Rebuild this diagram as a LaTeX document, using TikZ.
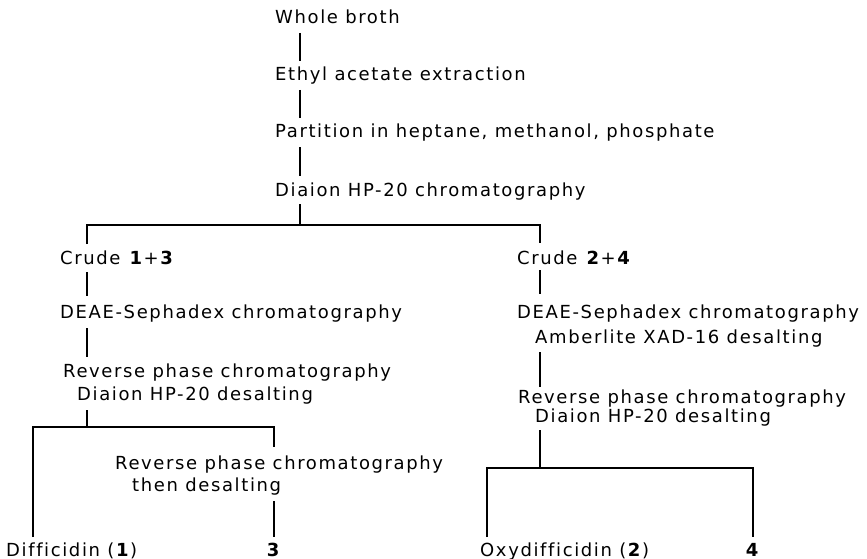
\documentclass[tikz,border=0pt]{standalone}
\usepackage{fontspec}
\setmainfont{DejaVu Sans}[LetterSpace=9, Ligatures=NoCommon]
\usetikzlibrary{calc}

\tikzset{
    stage/.style={anchor=base west, inner sep=0pt, font=\fontsize{18}{21}\selectfont},
    leaf/.style={stage, anchor=base},
    link/.style={line width=1.2pt},
}

\begin{document}
\begin{tikzpicture}[x=1pt, y=-1pt]
            % the frame
            \useasboundingbox (0, 0) rectangle (867, 559);

            % the stems
            \coordinate (m) at (300, 0);
            \coordinate (a) at (87, 0);
            \coordinate (b) at (540, 0);
            \coordinate (c) at (274, 0);
            \coordinate (d) at (33, 0);
            \coordinate (e) at (487, 0);

            % common part
            \node[stage] (broth) at (275, 24) {Whole broth};
            \node[stage] (ethyl) at (275, 81) {Ethyl acetate extraction};
            \node[stage] (part) at (275, 138) {Partition in heptane, methanol, phosphate};
            \node[stage] (hp) at (275, 196) {Diaion HP-20 chromatography};

            % left branch
            \node[stage] (crudeA) at (60, 264) {Crude \textbf{1}+\textbf{3}};
            \node[stage] (deaeA) at (60, 318) {DEAE-Sephadex chromatography};
            \node[stage] (revA) at (63, 377) {Reverse phase chromatography};
            \node[stage] (dhpA) at (77, 400) {Diaion HP-20 desalting};
            \node[stage] (revC) at (115, 469) {Reverse phase chromatography};
            \node[stage] (thenC) at (132, 491) {then desalting};
            \node[stage] (diff) at (6, 556) {Difficidin (\textbf{1})};
            \node[leaf] (p3) at (274, 556) {\textbf{3}};

            % right branch
            \node[stage] (crudeB) at (517, 264) {Crude \textbf{2}+\textbf{4}};
            \node[stage] (deaeB) at (517, 318) {DEAE-Sephadex chromatography};
            \node[stage] (amber) at (535, 343) {Amberlite XAD-16 desalting};
            \node[stage] (revB) at (518, 403) {Reverse phase chromatography};
            \node[stage] (dhpB) at (535, 422) {Diaion HP-20 desalting};
            \node[stage] (oxy) at (480, 556) {Oxydifficidin (\textbf{2})};
            \node[leaf] (p4) at (753, 556) {\textbf{4}};

            % forks
            \coordinate (f1) at (300, 225);
            \coordinate (fA) at (87, 427);
            \coordinate (fB) at (540, 468);

            % lines
            \draw[link] ($(broth.base -| m)+(0,9)$) -- ($(ethyl.base -| m)+(0,-20)$);
            \draw[link] ($(ethyl.base -| m)+(0,9)$) -- ($(part.base -| m)+(0,-20)$);
            \draw[link] ($(part.base -| m)+(0,9)$) -- ($(hp.base -| m)+(0,-20)$);
            \draw[link] ($(hp.base -| m)+(0,8)$) -- (f1);
            \draw[link] ($(crudeA.base -| a)+(0,-20)$) |- (f1) -| ($(crudeB.base -| b)+(0,-21)$);

            \draw[link] ($(crudeA.base -| a)+(0,8)$) -- ($(deaeA.base -| a)+(0,-22)$);
            \draw[link] ($(deaeA.base -| a)+(0,10)$) -- ($(revA.base -| a)+(0,-20)$);
            \draw[link] ($(dhpA.base -| a)+(0,10)$) -- (fA);
            \draw[link] ($(diff.base -| d)+(0,-19)$) |- (fA) -| ($(revC.base -| c)+(0,-22)$);
            \draw[link] ($(thenC.base -| c)+(0,10)$) -- ($(p3.base -| c)+(0,-19)$);

            \draw[link] ($(crudeB.base -| b)+(0,6)$) -- ($(deaeB.base -| b)+(0,-24)$);
            \draw[link] ($(amber.base -| b)+(0,9)$) -- ($(revB.base -| b)+(0,-16)$);
            \draw[link] ($(dhpB.base -| b)+(0,8)$) -- (fB);
            \draw[link] ($(oxy.base -| e)+(0,-19)$) |- (fB) -| ($(p4.base)+(0,-19)$);
        \end{tikzpicture}
\end{document}
